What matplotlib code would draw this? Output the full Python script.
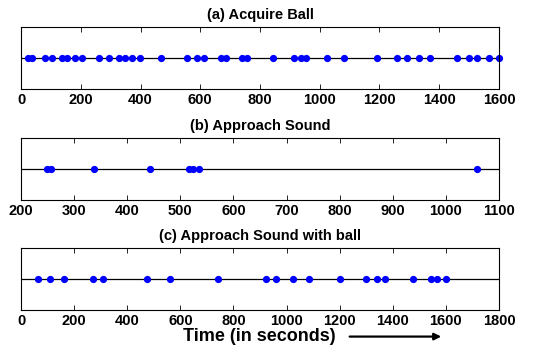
import numpy as np
import matplotlib
matplotlib.use("Agg")
from matplotlib import pyplot as plt

# event times (seconds)
acquire_ball = [22, 37, 81, 103, 137, 154, 181, 205, 261, 295, 327, 347, 373, 397,
                470, 556, 589, 611, 668, 686, 738, 757, 844, 913, 938, 955, 1023,
                1080, 1191, 1260, 1291, 1331, 1368, 1458, 1501, 1525, 1567, 1600]
approach_sound = [248, 256, 338, 443, 517, 523, 536, 1058]
approach_ball = [63, 108, 162, 270, 309, 474, 560, 742, 922, 962, 1026, 1083,
                 1201, 1301, 1341, 1370, 1477, 1543, 1568, 1602]

titles = ["(a) Acquire Ball", "(b) Approach Sound", "(c) Approach Sound with ball"]
xlims = [(0, 1600), (200, 1100), (0, 1800)]
xsteps = [200, 100, 200]
series = [acquire_ball, approach_sound, approach_ball]

plt.rcParams['font.family'] = ['Liberation Sans', 'DejaVu Sans']
plt.rcParams['font.weight'] = 'bold'

fig = plt.figure(figsize=(5.55, 3.47), dpi=100)
left, width, height = 0.038, 0.861, 0.179
bottoms = [0.7435, 0.4236, 0.1066]

for i in range(3):
    ax = fig.add_axes([left, bottoms[i], width, height])
    lo, hi = xlims[i]
    ax.axhline(0, color='black', lw=0.9, zorder=1)
    ax.plot(series[i], np.zeros(len(series[i])), 'o', color='#0000ff',
            markersize=4.2, zorder=2, clip_on=False)
    ax.set_xlim(lo, hi)
    ax.set_ylim(-1, 1)
    ax.set_yticks([])
    ax.set_xticks(np.arange(lo, hi + 1, xsteps[i]))
    ax.tick_params(axis='x', direction='in', top=True, length=3.5, width=0.6,
                   labelsize=10.5, pad=3)
    for lab in ax.get_xticklabels():
        lab.set_fontweight('bold')
    for sp in ax.spines.values():
        sp.set_linewidth(0.8)
    ax.set_title(titles[i], fontsize=10.5, fontweight='bold', pad=6)

fig.text(0.33, 0.03, "Time (in seconds)", fontsize=13, fontweight='bold',
         ha='left', va='center')
fig.add_artist(matplotlib.patches.FancyArrowPatch(
    (0.625, 0.03), (0.80, 0.03), transform=fig.transFigure,
    arrowstyle='-|>', mutation_scale=10, lw=1.6, color='black'))

fig.savefig("out.png", dpi=100)
